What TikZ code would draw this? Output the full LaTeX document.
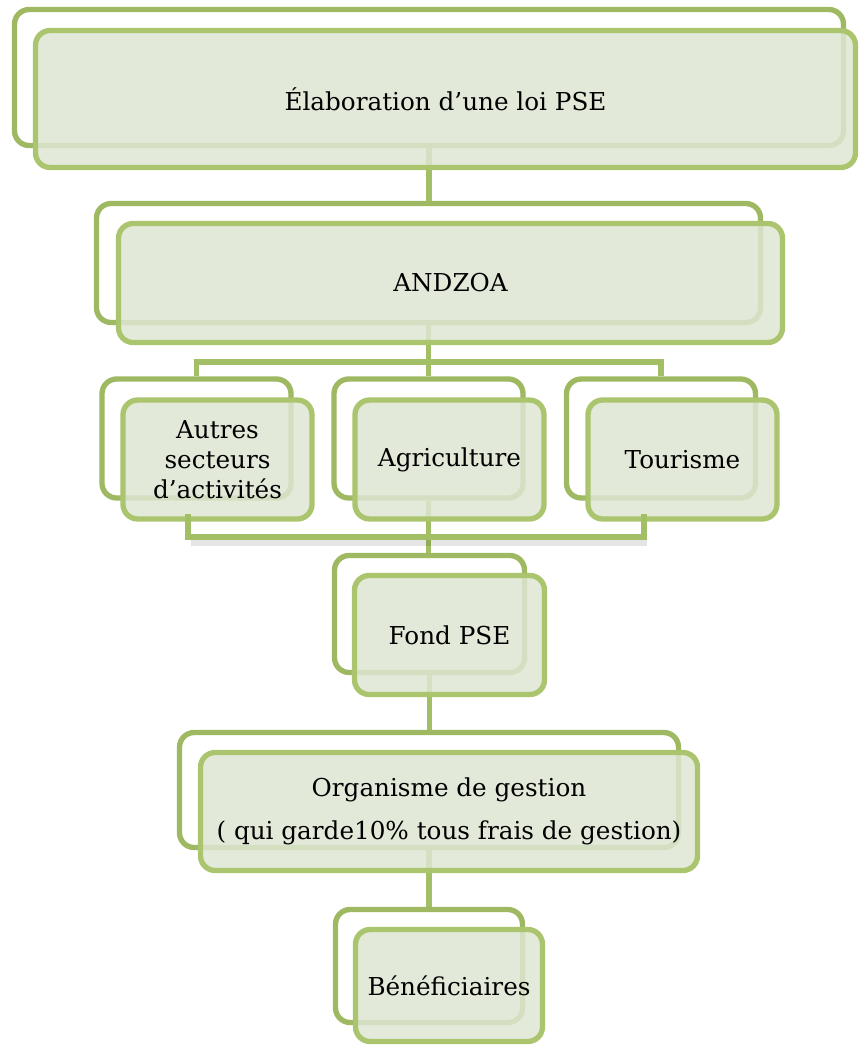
\documentclass[tikz,border=0pt]{standalone}
\usepackage{fontspec}
\setmainfont{DejaVu Serif}
\usetikzlibrary{calc}
\definecolor{backgreen}{HTML}{9EB961}
\definecolor{frontgreen}{HTML}{ABC56E}
\definecolor{frontfill}{HTML}{DEE6D3}
\definecolor{conngreen}{HTML}{A3BF66}
\begin{document}
\begin{tikzpicture}[x=0.75pt,y=-0.75pt,
  backbox/.style={draw=backgreen, line width=4pt, rounded corners=11pt, fill=white, inner sep=0pt},
  frontbox/.style={draw=frontgreen, line width=4pt, rounded corners=11pt, fill=frontfill, fill opacity=0.85, text opacity=1, inner sep=0pt, align=center, font=\fontsize{18.5}{22.5}\selectfont},
  conn/.style={draw=conngreen, line width=4pt},
  shadowline/.style={draw=black, line width=5pt, opacity=0.10},
  smallbox/.style={minimum width=141.75pt, minimum height=89.25pt}
]
\useasboundingbox (0,0) rectangle (859,1046);

% back frames
\coordinate (hy) at (430,362);
\node[backbox, minimum width=621.75pt, minimum height=102pt] (b1) at (429,77.5) {};
\node[backbox, minimum width=498pt, minimum height=89.25pt] (b2) at (428.5,263) {};
\node[backbox, smallbox] (ba) at (196.5,438.5) {};
\node[backbox, smallbox] (bg) at (428.5,438.5) {};
\node[backbox, smallbox] (bt) at (661,438.5) {};
\node[backbox, minimum width=142.5pt, minimum height=87.75pt] (bf) at (429.5,614) {};
\node[backbox, minimum width=374.25pt, minimum height=86.25pt] (bo) at (429,790) {};
\node[backbox, minimum width=140.25pt, minimum height=84.75pt] (bb) at (429,966) {};

% connectors
\draw[conn] (b1.south) -- (b1.south |- b2.north);
\draw[conn] (b2.south) -- (b2.south |- hy);
\draw[conn] (ba.north) -- (ba.north |- hy) -- (bt.north |- hy) -- (bt.north);
\draw[conn] (b2.south |- hy) -- (b2.south |- bg.north);
\draw[conn] (bg.south) -- (bg.south |- bf.north);
\draw[conn] (bf.south) -- (bf.south |- bo.north);
\draw[conn] (bo.south) -- (bo.south |- bb.north);

% front boxes
\node[frontbox, minimum width=615pt, minimum height=102.75pt] (f1) at (445.5,99) {Élaboration d’une loi PSE};
\node[frontbox, minimum width=498pt, minimum height=89.25pt] (f2) at (450.5,283) {ANDZOA};
\node[frontbox, smallbox] (fa) at (217.5,459.5) {Autres\\secteurs\\d’activités};
\node[frontbox, smallbox] (fg) at (449.5,459.5) {Agriculture};
\node[frontbox, smallbox] (ft) at (682.5,459.5) {Tourisme};
\node[frontbox, minimum width=142.5pt, minimum height=89.25pt] (ff) at (449.5,635) {Fond PSE};
\node[frontbox, minimum width=372.75pt, minimum height=88.5pt] (fo) at (449,811.5) {Organisme de gestion\\[10pt]( qui garde10\% tous frais de gestion)};
\node[frontbox, minimum width=140.25pt, minimum height=84pt] (fb) at (449,985.5) {Bénéficiaires};

% lower bracket joining the three sectors
\coordinate (la) at (188,514);
\coordinate (lt) at (644,514);
\coordinate (ly) at (430,537);
\draw[shadowline] ($(la |- ly)+(3,6)$) -- ($(lt |- ly)+(3,6)$);
\draw[conn] (la) -- (la |- ly) -- (lt |- ly) -- (lt);
\end{tikzpicture}
\end{document}
